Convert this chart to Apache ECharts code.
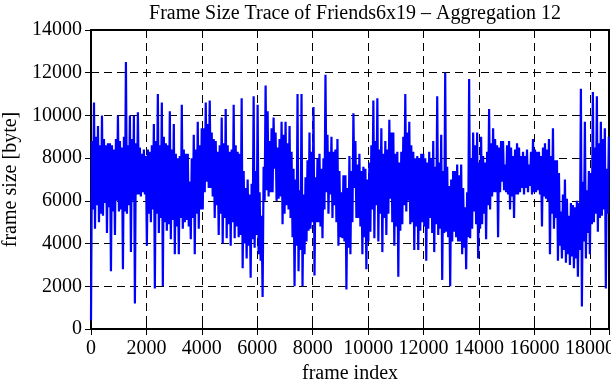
<!DOCTYPE html>
<html>
<head>
<meta charset="utf-8">
<script src="https://cdn.jsdelivr.net/npm/echarts@6/dist/echarts.min.js"></script>
<style>
  html, body { margin: 0; padding: 0; background: #fff; }
  #chart { width: 611px; height: 380px; }
</style>
</head>
<body>
<div id="chart"></div>
<script>
// aggregated frame sizes [byte]; the trace swings between a lower and an upper
// reading every frameStep frames (lower first, then upper) per 2000-frame block
const frameStep = 36

const lower0 = [400, 5600, 4700, 5800, 5000, 5400, 5300, 5900, 4500, 5700, 2700, 5500, 4400, 6000,
  5500, 5600, 2800, 5500, 5400, 5800, 3600, 6000, 1200, 6300, 6300, 6200, 6400, 6300]
const upper0 = [8800, 10600, 9000, 9500, 8600, 10000, 8900, 8600, 8700, 8700, 8600, 8400, 8900, 10000,
  8800, 8500, 9000, 12500, 8600, 10000, 8900, 10000, 8700, 10150, 8500, 8200, 8400, 8100]

const lower2k = [3900, 5400, 5000, 5600, 1900, 5400, 4500, 5200, 2000, 5000, 4600, 4900, 4200, 5100,
  3500, 4800, 3500, 5200, 4700, 5000, 5100, 4800, 4200, 5200, 3500, 5400, 4700, 5600]
const upper2k = [8400, 8300, 8600, 9600, 8800, 11000, 8600, 10600, 9000, 8700, 8600, 10200, 8400, 9600,
  8200, 8000, 8100, 10500, 8400, 8200, 8200, 6900, 8000, 9100, 8400, 9700, 8600, 9400]

const lower4k = [5600, 6400, 6900, 6600, 6600, 6200, 5200, 5800, 4400, 5400, 4000, 5200, 4250, 4900,
  3900, 5000, 4250, 4800, 4300, 4400, 2850, 4000, 3300, 3900, 2400, 4200, 3800, 4400]
const upper4k = [9400, 10600, 9600, 10700, 9200, 8900, 8800, 8300, 8600, 9900, 8700, 10300, 8600, 8300,
  8400, 10500, 8600, 8300, 8200, 10800, 7400, 6600, 7000, 6300, 6800, 10900, 7400, 10500]

const lower6k = [3500, 3200, 1500, 6000, 6500, 6200, 6400, 6400, 7500, 6000, 6100, 6200, 4900, 5400,
  5800, 5600, 5200, 4300, 2000, 3900, 2700, 3700, 2000, 3500, 4100, 4600, 4700, 5000]
const upper6k = [6400, 5300, 7600, 11400, 10200, 8800, 9400, 9900, 9200, 8500, 8900, 9700, 9100, 9700,
  8700, 9500, 8300, 7500, 7000, 11000, 6500, 11000, 6300, 7100, 7900, 9200, 8300, 10400]

const lower8k = [2500, 5000, 5000, 4800, 4250, 5600, 6400, 5400, 6300, 5200, 5800, 5000, 3900, 4300,
  4250, 4100, 1850, 3800, 3500, 5000, 6600, 5200, 5200, 4800, 3500, 4300, 2800, 4100]
const upper8k = [7100, 8000, 8200, 7500, 8000, 11900, 9100, 8300, 9000, 8300, 8400, 8900, 7400, 6400,
  7200, 7200, 6600, 8100, 7400, 10100, 8800, 7700, 8200, 7400, 7600, 7500, 7000, 7800]

const lower10k = [4550, 5600, 4250, 5800, 4100, 5400, 3600, 5200, 4400, 5400, 6100, 5000, 3900, 4800,
  2450, 4600, 4900, 5800, 5500, 6000, 4900, 5000, 3700, 4800, 3700, 4600, 5000, 4800]
const upper10k = [8600, 10700, 8800, 10800, 8400, 9400, 8200, 8800, 8400, 9800, 9200, 9200, 8200, 8300,
  7800, 8300, 9000, 11000, 9200, 9700, 8600, 8300, 8000, 8100, 8000, 8200, 8200, 8000]

const lower12k = [3200, 4700, 5200, 4500, 3600, 4900, 4400, 4700, 2300, 4500, 4550, 4300, 2000, 4100,
  4550, 4300, 4100, 4100, 3500, 3800, 2800, 4300, 4250, 4700, 5500, 4900, 3300, 4700]
const upper12k = [7800, 8300, 8000, 8800, 7600, 10900, 7800, 9100, 7400, 12000, 7600, 6700, 7000, 7400,
  7400, 7700, 7200, 7700, 6600, 5700, 6400, 11700, 8000, 9200, 8600, 9200, 7800, 9000]

const lower14k = [4900, 5400, 4200, 5800, 5600, 6200, 6400, 6400, 4300, 6400, 6900, 6500, 6400, 6300,
  5600, 6200, 5200, 6300, 6300, 6400, 6600, 6300, 6600, 6400, 6700, 6300, 6400, 6400]
const upper14k = [8100, 7800, 8300, 10300, 8700, 9400, 8900, 8600, 8500, 8800, 8800, 7700, 8600, 8800,
  8500, 8100, 8400, 8700, 8500, 8100, 8300, 8100, 8400, 7700, 8300, 8900, 8400, 8300]

const lower16k = [6500, 6300, 4800, 6200, 6100, 6000, 3500, 5400, 4700, 5200, 3200, 3900, 3300, 3700,
  3100, 3500, 3000, 3400, 2850, 3300, 2450, 3700, 1050, 4100, 3300, 4500, 3500, 4900,
  5000, 5400, 4550, 5200, 5300, 5600, 1900, 5400]
const upper16k = [8300, 8100, 8500, 8700, 8400, 8900, 8100, 9400, 7900, 7900, 7300, 5500, 6300, 7000,
  6100, 5300, 5900, 5800, 5700, 6000, 5900, 11250, 6900, 9700, 6500, 7400, 7300, 11100,
  8500, 10900, 8700, 9700, 8900, 9400, 7500, 9000]

const lower = [].concat(lower0, lower2k, lower4k, lower6k, lower8k, lower10k, lower12k, lower14k, lower16k)
const upper = [].concat(upper0, upper2k, upper4k, upper6k, upper8k, upper10k, upper12k, upper14k, upper16k)

const trace = []
lower.forEach((lo, i) => {
  trace.push([2 * i * frameStep, lo])
  trace.push([(2 * i + 1) * frameStep, upper[i]])
})

const xMax = 18690
const yMax = 14000
const tickStep = 2000

const font = 'Liberation Serif'
const fontSize = 20

const chart = echarts.init(document.getElementById('chart'))
chart.setOption({
  animation: false,
  backgroundColor: '#fff',
  title: {
    text: 'Frame Size Trace of Friends6x19 – Aggregation 12',
    left: 350,
    top: -1,
    textAlign: 'center',
    textStyle: { fontFamily: font, fontSize: fontSize, fontWeight: 'normal', color: '#000' }
  },
  grid: {
    left: 91,
    right: 2,
    top: 30,
    bottom: 51,
    outerBoundsMode: 'none',
    show: true,
    borderColor: '#000',
    borderWidth: 2,
    backgroundColor: 'transparent'
  },
  xAxis: [
    {
      type: 'value',
      min: 0,
      max: xMax,
      interval: tickStep,
      name: 'frame index',
      nameLocation: 'middle',
      nameGap: 34,
      nameTextStyle: { fontFamily: font, fontSize: fontSize, color: '#000' },
      axisLine: { show: false },
      axisTick: { inside: true, length: 6, lineStyle: { color: '#000' } },
      axisLabel: {
        margin: 10,
        showMaxLabel: false,
        fontFamily: font,
        fontSize: fontSize,
        color: '#000',
        formatter: (v) => (v % tickStep === 0 ? String(v) : '')
      },
      splitLine: { show: true, lineStyle: { color: '#000', type: [8, 5], width: 1 } }
    },
    {
      // top border ticks
      type: 'value',
      position: 'top',
      min: 0,
      max: xMax,
      interval: tickStep,
      axisLine: { show: false },
      axisTick: { inside: true, length: 6, lineStyle: { color: '#000' } },
      axisLabel: { show: false },
      splitLine: { show: false }
    }
  ],
  yAxis: [
    {
      type: 'value',
      min: 0,
      max: yMax,
      interval: tickStep,
      name: 'frame size [byte]',
      nameLocation: 'middle',
      nameGap: 68,
      nameTextStyle: { fontFamily: font, fontSize: fontSize, color: '#000' },
      axisLine: { show: false },
      axisTick: { inside: true, length: 6, lineStyle: { color: '#000' } },
      axisLabel: {
        margin: 9,
        fontFamily: font,
        fontSize: fontSize,
        color: '#000',
        formatter: (v) => String(v)
      },
      splitLine: { show: true, lineStyle: { color: '#000', type: [8, 5], width: 1 } }
    },
    {
      // right border ticks
      type: 'value',
      position: 'right',
      min: 0,
      max: yMax,
      interval: tickStep,
      axisLine: { show: false },
      axisTick: { inside: true, length: 6, lineStyle: { color: '#000' } },
      axisLabel: { show: false },
      splitLine: { show: false }
    }
  ],
  series: [
    {
      type: 'line',
      data: trace,
      xAxisIndex: 0,
      yAxisIndex: 0,
      showSymbol: false,
      sampling: null,
      lineStyle: { color: '#0000ff', width: 2.2 },
      z: 3
    }
  ]
})
</script>
</body>
</html>
